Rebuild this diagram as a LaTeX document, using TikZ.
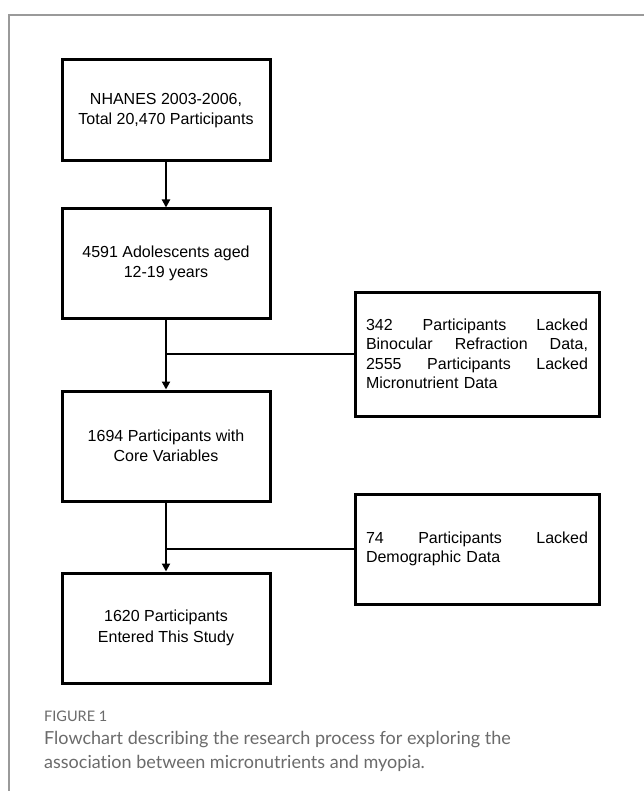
\documentclass[tikz,border=0pt]{standalone}
\usepackage{fontspec}
\setmainfont{Liberation Sans}
\newfontfamily\capfont[Ligatures=NoCommon]{Lato}
\usetikzlibrary{arrows.meta}
\definecolor{framegray}{HTML}{9A9A9A}
\definecolor{capgray}{HTML}{6B6B6B}
\begin{document}
\begin{tikzpicture}[x=1pt,y=-1pt,
  box/.style={draw=black,line width=3pt,minimum width=208pt,inner sep=0pt,
    align=center,font=\fontsize{16}{20.5}\selectfont},
  sidebox/.style={draw=black,line width=3pt,minimum width=244pt,inner sep=0pt,
    text width=222pt,align=left,font=\fontsize{16}{19.5}\selectfont},
  conn/.style={line width=2.2pt,draw=black},
  arr/.style={conn,-{Triangle[width=8pt,length=8pt]}}]
\useasboundingbox (0,0) rectangle (644,791);
\fill[white] (0,0) rectangle (644,791);
% frame
\draw[framegray,line width=1.2pt] (9,791) -- (9,15) -- (644,15);
% boxes
\node[box,minimum height=101pt] (b1) at (166,110.5) {NHANES 2003-2006,\\Total 20,470 Participants};
\node[box,minimum height=109pt] (b2) at (166,263.5) {4591 Adolescents aged\\12-19 years};
\node[box,minimum height=110pt] (b3) at (166,446) {1694 Participants with\\Core Variables};
\node[box,minimum height=110pt] (b4) at (166,628) {1620 Participants\\Entered This Study};
\node[sidebox,minimum height=124pt] (r1) at (477,354) {342\hfill Participants\hfill Lacked\\Binocular\hfill Refraction\hfill Data,\\2555\hfill Participants\hfill Lacked\\Micronutrient Data};
\node[sidebox,minimum height=110pt] (r2) at (477,549) {74\hfill Participants\hfill Lacked\\Demographic Data};
% connectors
\draw[arr] (b1.south) -- (b2.north);
\draw[arr] (b2.south) -- (b3.north);
\draw[arr] (b3.south) -- (b4.north);
\draw[conn] (r1.west) -- (r1.west -| b2.south);
\draw[conn] (r2.west) -- (r2.west -| b3.south);
% caption
\node[anchor=base west,inner sep=0pt,text=capgray,font=\capfont\fontsize{14.5}{16}\selectfont] (fig) at (44,721) {FIGURE 1};
\node[anchor=north west,inner sep=0pt,text=capgray,align=left,
  font=\capfont\fontsize{18}{24}\selectfont] (cap) at (44,731)
  {Flowchart describing the research process for exploring the\\association between micronutrients and myopia.};
\end{tikzpicture}
\end{document}
